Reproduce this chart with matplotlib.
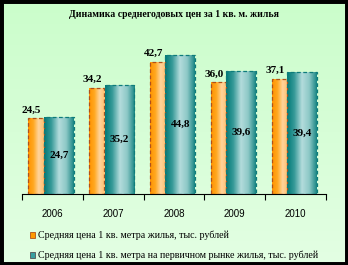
import numpy as np
import matplotlib
matplotlib.use('Agg')
from matplotlib import pyplot as plt
from matplotlib.colors import LinearSegmentedColormap
from matplotlib.patches import Rectangle

years = ['2006', '2007', '2008', '2009', '2010']
avg_price = [24.5, 34.2, 42.7, 36.0, 37.1]
primary_price = [24.7, 35.2, 44.8, 39.6, 39.4]
avg_labels = ['24,5', '34,2', '42,7', '36,0', '37,1']
primary_labels = ['24,7', '35,2', '44,8', '39,6', '39,4']

title = 'Динамика среднегодовых цен за 1 кв. м. жилья'
legend_avg = 'Средняя цена 1 кв. метра жилья, тыс. рублей'
legend_primary = 'Средняя цена 1 кв. метра на первичном рынке жилья, тыс. рублей'

serif = 'Liberation Serif'

fig = plt.figure(figsize=(3.48, 2.65), dpi=100)

# background gradient
bg = fig.add_axes([0, 0, 1, 1], zorder=-10)
bg.imshow(np.linspace(0, 1, 100).reshape(-1, 1), aspect='auto', extent=[0, 1, 0, 1],
          cmap=LinearSegmentedColormap.from_list('bg', ['#cbfdcb', '#e3ffe3']))
bg.set_axis_off()
fig.patches.append(Rectangle((0, 0), 1, 1, transform=fig.transFigure, fill=False,
                             edgecolor='black', linewidth=5, zorder=20))

ax = fig.add_axes([0.063, 0.268, 0.874, 0.585])
ax.patch.set_alpha(0)

x = np.arange(len(years))
orange_cmap = LinearSegmentedColormap.from_list('o', ['#ff9400', '#ffa820', '#ffd49a', '#ffc070'])
teal_cmap = LinearSegmentedColormap.from_list('t', ['#007a78', '#3a9c9a', '#b4dcdc', '#8cc8c6', '#1a8684'])

bars_o = ax.bar(x - 0.27, avg_price, width=0.25, color='none', edgecolor='#b0501a',
                linewidth=0.9, linestyle=(0, (3, 2)), zorder=3)
bars_t = ax.bar(x + 0.105, primary_price, width=0.49, color='none', edgecolor='#0e7c7a',
                linewidth=0.9, linestyle=(0, (3, 2)), zorder=3)

grad = np.linspace(0, 1, 64).reshape(1, -1)
for bars, cmap in [(bars_o, orange_cmap), (bars_t, teal_cmap)]:
    for b in bars:
        x0, w, h = b.get_x(), b.get_width(), b.get_height()
        im = ax.imshow(grad, aspect='auto', cmap=cmap, extent=[x0, x0 + w, 0, h], zorder=2)
        im.set_clip_path(b)

for b, lab in zip(bars_o, avg_labels):
    ax.text(b.get_x() + b.get_width() / 2 - 0.07, b.get_height() + 1.2, lab, ha='center',
            va='bottom', fontsize=8, fontweight='bold', family=serif, zorder=5)
for b, lab in zip(bars_t, primary_labels):
    ax.text(b.get_x() + b.get_width() / 2, b.get_height() / 2, lab, ha='center',
            va='center', fontsize=8, fontweight='bold', family=serif, zorder=5)

ax.set_xlim(-0.5, len(years) - 0.5)
ax.set_ylim(0, 50)
ax.set_xticks(x)
ax.set_xticklabels(years, fontsize=7, family='Liberation Sans')
ax.set_xticks(np.arange(-0.5, len(years)), minor=True)
ax.tick_params(axis='x', which='major', length=0, pad=11)
ax.tick_params(axis='x', which='minor', length=4, direction='out', color='black', width=0.8)
ax.set_yticks([])
for s in ['left', 'right', 'top']:
    ax.spines[s].set_visible(False)
ax.spines['bottom'].set_linewidth(0.8)

fig.text(0.5, 0.945, title, ha='center', va='center', fontsize=7, fontweight='bold', family=serif)

# legend
fig.patches.append(Rectangle((0.085, 0.1035), 0.017, 0.022, transform=fig.transFigure,
                             facecolor='#ff9900', edgecolor='#b0501a', linewidth=0.6))
fig.patches.append(Rectangle((0.085, 0.028), 0.017, 0.022, transform=fig.transFigure,
                             facecolor='#3aa0a0', edgecolor='#555555', linewidth=0.6))
fig.text(0.108, 0.111, legend_avg, ha='left', va='center', fontsize=7.2, family=serif)
fig.text(0.108, 0.036, legend_primary, ha='left', va='center', fontsize=7.2, family=serif)

fig.savefig('out.png', dpi=100)
